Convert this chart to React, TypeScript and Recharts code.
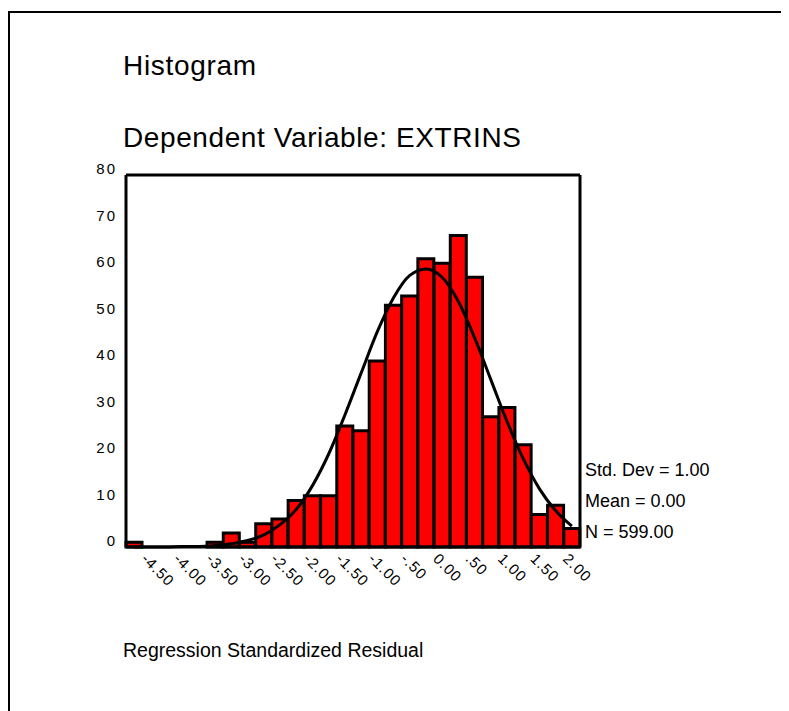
import { Bar, ComposedChart, Line, XAxis, YAxis } from "recharts";

// bins of 0.25 on the standardized residual
const binCenters = [
  -4.5, -4.25, -4.0, -3.75, -3.5, -3.25, -3.0, -2.75, -2.5, -2.25, -2.0, -1.75, -1.5, -1.25,
  -1.0, -0.75, -0.5, -0.25, 0.0, 0.25, 0.5, 0.75, 1.0, 1.25, 1.5, 1.75, 2.0, 2.25
];

const residualCounts = [
  1, 0, 0, 0, 0, 1, 3, 1, 5, 6, 10, 11, 11, 26,
  25, 40, 52, 54, 62, 61, 67, 58, 28, 30, 22, 7, 9, 4
];

// normal curve
const normalCurve = [
  0, 0, 0, 0.1, 0.1, 0.3, 0.7, 1.4, 2.6, 4.8, 8.1, 13.2, 20.0, 28.4,
  37.4, 46.3, 53.6, 58.4, 59.8, 58.0, 52.8, 45.0, 36.0, 27.0, 19.0, 12.5, 7.8, 4.5
];

const yTicks = [0, 10, 20, 30, 40, 50, 60, 70, 80];

const labelledBins = [-4.5, -4.0, -3.5, -3.0, -2.5, -2.0, -1.5, -1.0, -0.5, 0.0, 0.5, 1.0, 1.5, 2.0];
const binLabels = [
  "-4.50", "-4.00", "-3.50", "-3.00", "-2.50", "-2.00", "-1.50",
  "-1.00", "-.50", "0.00", ".50", "1.00", "1.50", "2.00"
];

const statLines = ["Std. Dev = 1.00", "Mean = 0.00", "N = 599.00"];

const FONT = "'Liberation Sans', Arial, sans-serif";

const chartData = binCenters.map((bin, i) => ({
  bin,
  count: residualCounts[i],
  curve: normalCurve[i]
}));

const labelFor = (value: number): string => {
  const idx = labelledBins.findIndex((b) => Math.abs(b - value) < 1e-6);
  return idx >= 0 ? binLabels[idx] : "";
};

const YTick = ({ x, y, payload }: any) => (
  <text
    x={x - 7}
    y={y - 6}
    dy="0.35em"
    textAnchor="end"
    fontSize={15}
    letterSpacing={2}
    fill="#000"
    fontFamily={FONT}
  >
    {payload.value}
  </text>
);

const XTick = ({ x, y, payload }: any) => {
  const label = labelFor(Number(payload.value));
  if (!label) return null;
  return (
    <g transform={`translate(${x + 10},${y + 7}) rotate(45)`}>
      <text x={0} y={0} dy="0.35em" textAnchor="start" fontSize={15} letterSpacing={1} fill="#000" fontFamily={FONT}>
        {label}
      </text>
    </g>
  );
};

export default function App() {
  return (
    <div style={{ position: "relative", width: 781, height: 703, fontFamily: FONT }}>
      <div
        style={{
          position: "absolute",
          left: 0,
          top: 3,
          width: 781,
          height: 700,
          borderLeft: "2px solid #000",
          borderTop: "2px solid #000",
          boxSizing: "border-box"
        }}
      />
      <ComposedChart
        width={781}
        height={703}
        data={chartData}
        barCategoryGap={0}
        barGap={0}
        margin={{ top: 166, right: 208, bottom: 104, left: 78 }}
      >
        <XAxis
          dataKey="bin"
          type="category"
          interval={0}
          height={60}
          tickLine={false}
          tickSize={0}
          axisLine={{ stroke: "#000", strokeWidth: 3 }}
          tick={<XTick />}
        />
        <XAxis
          xAxisId="top"
          dataKey="bin"
          type="category"
          orientation="top"
          height={1}
          tick={false}
          tickLine={false}
          axisLine={{ stroke: "#000", strokeWidth: 3 }}
        />
        <YAxis
          domain={[0, 80]}
          ticks={yTicks}
          width={40}
          tickLine={false}
          tickSize={0}
          axisLine={{ stroke: "#000", strokeWidth: 3 }}
          tick={<YTick />}
        />
        <YAxis
          yAxisId="right"
          orientation="right"
          domain={[0, 80]}
          width={1}
          tick={false}
          tickLine={false}
          axisLine={{ stroke: "#000", strokeWidth: 3 }}
        />
        <Bar
          dataKey="count"
          fill="#ff0000"
          stroke="#000"
          strokeWidth={3}
          isAnimationActive={false}
        />
        <Line
          xAxisId="top"
          yAxisId="right"
          dataKey="curve"
          type="monotone"
          stroke="#000"
          strokeWidth={3}
          dot={false}
          activeDot={false}
          isAnimationActive={false}
        />
      </ComposedChart>
      <svg
        width={781}
        height={703}
        style={{ position: "absolute", left: 0, top: 0, pointerEvents: "none" }}
      >
        <text x={115} y={67} fontSize={28} letterSpacing={0.7} fill="#000" fontFamily={FONT}>
          Histogram
        </text>
        <text x={115} y={138.5} fontSize={28} letterSpacing={0.6} fill="#000" fontFamily={FONT}>
          Dependent Variable: EXTRINS
        </text>
        {statLines.map((line, i) => (
          <text key={line} x={577} y={468 + i * 31} fontSize={18} fill="#000" fontFamily={FONT}>
            {line}
          </text>
        ))}
        <text x={115} y={649} fontSize={19.5} fill="#000" fontFamily={FONT}>
          Regression Standardized Residual
        </text>
      </svg>
    </div>
  );
}
